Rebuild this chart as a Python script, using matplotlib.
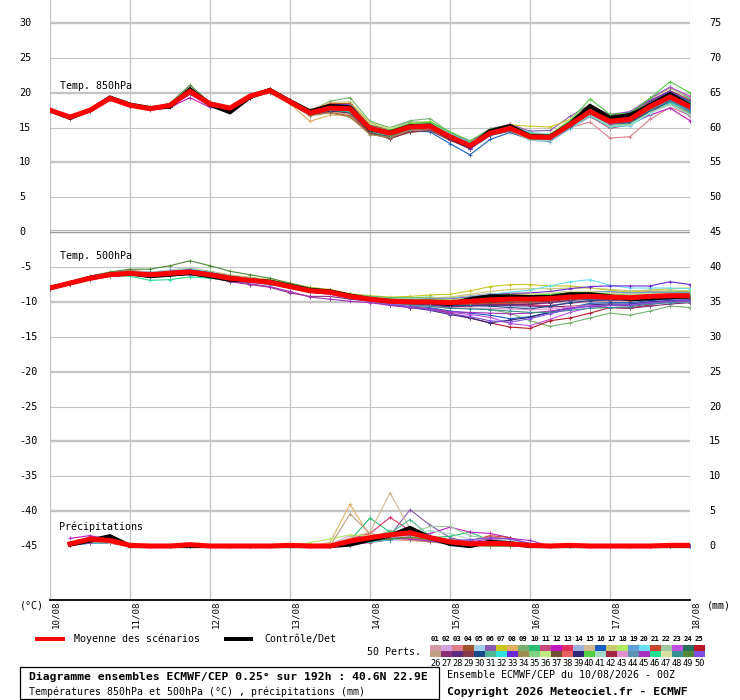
import matplotlib
matplotlib.use('Agg')
import matplotlib.pyplot as plt
from matplotlib.transforms import blended_transform_factory, ScaledTranslation
from matplotlib.patches import Rectangle
import numpy as np

# ---------------- DATA ----------------
hours = [0, 6, 12, 18, 24, 30, 36, 42, 48, 54, 60, 66, 72, 78, 84, 90, 96,
         102, 108, 114, 120, 126, 132, 138, 144, 150, 156, 162, 168, 174, 180, 186, 192]
day_hours = [0, 24, 48, 72, 96, 120, 144, 168, 192]
day_labels = ['10/08', '11/08', '12/08', '13/08', '14/08', '15/08', '16/08', '17/08', '18/08']
left_ticks = [30, 25, 20, 15, 10, 5, 0, -5, -10, -15, -20, -25, -30, -35, -40, -45]
right_ticks = [75, 70, 65, 60, 55, 50, 45, 40, 35, 30, 25, 20, 15, 10, 5, 0]

t850_mean = [17.5, 16.5, 17.5, 19.2, 18.2, 17.7, 18.2, 20.2, 18.4, 17.8, 19.5, 20.3, 18.7, 17.1, 17.8, 17.7, 14.9,
             14.2, 15.1, 15.2, 13.7, 12.4, 14.2, 14.9, 13.7, 13.6, 15.4, 17.3, 15.9, 16.2, 18.0, 19.4, 18.0]
t850_ctrl = [17.5, 16.4, 17.5, 19.3, 18.3, 17.8, 18.0, 20.5, 18.3, 17.2, 19.4, 20.4, 18.8, 17.3, 18.1, 17.9, 14.8,
             14.3, 15.2, 15.3, 13.6, 12.3, 14.5, 15.2, 13.8, 13.7, 15.5, 18.1, 16.4, 16.8, 18.2, 19.8, 18.2]

t500_mean = [-8.0, -7.3, -6.6, -6.1, -5.9, -6.1, -5.9, -5.7, -6.1, -6.6, -6.9, -7.2, -7.8, -8.4, -8.6, -9.2, -9.6,
             -9.9, -10.0, -10.0, -10.1, -9.9, -9.7, -9.6, -9.6, -9.5, -9.3, -9.2, -9.3, -9.4, -9.2, -9.1, -9.1]
t500_ctrl = [-8.0, -7.3, -6.6, -6.1, -5.9, -6.3, -6.1, -5.8, -6.3, -6.8, -6.9, -7.1, -7.7, -8.3, -8.5, -9.1, -9.6,
             -9.9, -10.0, -10.0, -10.3, -9.6, -9.2, -9.2, -9.3, -9.3, -8.9, -8.9, -9.2, -9.6, -9.5, -9.3, -9.2]

# precipitation, mm, steps 6h .. 192h
precip_mean = [0.3, 1.0, 0.8, 0.1, 0.0, 0.0, 0.2, 0.0, 0.0, 0.0, 0.0, 0.1, 0.0, 0.0, 0.7, 1.2,
               1.6, 1.9, 1.2, 0.6, 0.3, 0.4, 0.3, 0.1, 0.0, 0.1, 0.0, 0.0, 0.0, 0.0, 0.1, 0.1]
precip_ctrl = [0.2, 0.8, 1.4, 0.0, 0.0, 0.0, 0.0, 0.0, 0.0, 0.0, 0.0, 0.0, 0.0, 0.0, 0.2, 0.9,
               1.5, 2.6, 1.2, 0.3, 0.0, 0.6, 0.4, 0.0, 0.0, 0.0, 0.0, 0.0, 0.0, 0.0, 0.0, 0.0]

# 850 hPa members: departure from the mean, tenths of degC
t850_dev = [
    [1,1,0,0,1,1,0,2,1,0,1,2,2,3,5,6,4,3,2,3,4,5,3,2,1,0,-2,-4,-6,-5,-3,-2,-4],
    [-1,0,1,1,0,-1,-1,-3,-2,-1,-1,0,1,2,4,5,3,2,3,4,5,6,7,5,4,3,2,0,-1,-2,-3,-5,-8],
    [2,1,1,0,0,0,1,3,2,2,1,0,-1,-2,-4,-5,-6,-4,-3,-2,-1,0,1,2,3,4,-4,-15,-24,-25,-18,-15,-12],
    [0,-1,-1,0,1,2,2,4,3,2,2,1,0,-1,-3,-6,-5,-7,-8,-6,-5,-3,-2,-1,0,1,3,5,6,7,8,9,10],
    [-2,-1,0,1,1,0,-1,-2,-1,0,1,1,2,1,0,-2,-1,0,2,3,2,1,0,-1,-3,-4,-6,-8,-5,-3,-1,2,4],
    [1,2,2,1,0,-1,-2,-4,-3,-2,-1,-1,0,1,2,3,5,6,7,5,3,2,4,6,8,10,12,10,8,9,11,14,12],
    [0,0,1,2,2,1,0,-1,0,1,2,3,3,4,6,8,7,5,3,1,0,-2,0,5,15,15,8,6,4,3,2,1,0],
    [-1,-1,-1,0,0,0,1,2,1,0,-1,-2,-3,-12,-10,-9,-7,-5,-4,-3,-2,-1,-2,-3,-4,-2,0,2,3,1,-1,-3,-2],
    [1,0,0,-1,-1,0,1,3,2,1,0,0,1,3,10,16,10,8,9,11,6,3,2,2,1,0,-1,-2,-3,-4,-6,-9,-10],
    [0,1,1,1,2,2,1,0,-1,-2,-2,-3,-2,-1,0,2,3,4,5,6,7,5,4,3,2,1,3,6,8,10,12,14,12],
    [-1,-2,-1,0,1,1,1,2,0,-1,-1,0,0,-1,-2,-3,-2,-1,0,1,2,3,4,3,2,0,-3,-7,-10,-8,-7,-9,-12],
    [2,2,1,0,-1,-2,-3,-9,-5,-3,-2,-1,-1,-2,-3,-4,-2,0,1,2,1,0,-1,-2,-1,0,1,-2,-5,-7,-12,-16,-20],
    [0,0,0,1,1,1,0,1,1,2,3,3,2,1,-1,-2,-1,0,1,2,3,4,5,6,5,4,3,1,0,2,4,6,8],
    [1,1,0,0,0,-1,-1,-2,-1,0,0,1,1,2,3,4,3,1,-1,-3,-4,-5,-4,-3,-2,-1,0,1,2,3,2,1,-1],
    [-1,0,0,0,-1,-1,0,1,2,2,1,1,0,-2,-5,-8,-6,-4,-2,0,2,3,2,1,0,-1,-2,-3,-4,-2,0,3,5],
    [0,-1,-1,-1,0,1,1,0,-1,-1,0,1,2,2,1,0,-2,-4,-6,-8,-10,-13,-9,-6,-4,-3,-2,-4,-6,-5,-4,-2,0],
    [1,1,1,0,0,0,0,-1,0,1,1,2,3,5,8,10,8,6,4,3,2,1,0,-1,0,1,2,4,6,8,10,12,14],
    [0,0,1,1,1,1,2,3,2,1,0,-1,-1,0,1,2,3,5,6,7,6,5,3,2,1,2,4,7,9,8,6,5,3],
    [-2,-2,-1,-1,0,0,-1,-3,-2,-1,0,0,1,0,-1,0,1,2,1,0,-1,-2,-3,-4,-5,-6,-5,-3,-1,0,1,0,-2],
    [1,0,-1,-1,-1,0,1,2,1,1,2,2,1,0,-2,-3,-4,-3,-2,-1,0,1,2,4,6,5,3,1,-1,-3,-5,-7,-9],
    [0,1,0,0,1,1,0,-1,-1,-1,-2,-2,-1,-3,-6,-10,-8,-6,-5,-4,-3,-2,-1,0,1,2,3,2,1,0,-1,-2,-3],
    [-1,-1,0,0,0,0,0,1,1,0,0,0,0,1,2,3,1,0,-1,0,1,2,3,1,-1,-3,-4,-5,-6,-6,-5,-4,-3],
    [1,1,1,1,0,0,0,0,0,0,1,1,1,2,4,6,5,4,3,4,5,6,5,4,3,4,6,8,10,11,12,14,15],
    [0,0,0,0,-1,-1,-1,-2,-2,-2,-1,0,0,-1,-3,-5,-6,-5,-3,-2,-1,0,-1,-2,-3,-2,-1,0,1,-1,-3,-6,-8],
    [0,1,1,1,1,0,0,1,0,0,0,1,2,4,6,7,5,3,1,0,-1,-2,-2,-1,0,1,2,3,4,5,6,4,2],
    [-1,0,0,0,0,1,1,2,1,0,-1,-1,-1,-2,-3,-4,-3,-2,-1,-1,0,0,1,1,2,2,1,-1,-3,-4,-6,-8,-10],
    [1,0,0,0,0,0,-1,-4,-3,-2,-2,-2,-1,0,1,1,0,-1,-2,-3,-4,-3,-2,-1,0,1,2,0,-2,-4,-7,-10,-13],
    [0,0,0,1,1,1,1,1,1,1,1,1,0,-1,-2,-1,0,1,2,3,2,1,0,-1,-2,-1,0,2,4,5,6,7,8],
    [0,-1,-1,-1,-1,-1,0,0,0,-1,-1,-1,-2,-3,-4,-6,-7,-8,-7,-6,-5,-4,-3,-2,-1,0,1,2,3,2,1,0,-1],
    [1,1,0,-1,-1,0,1,2,1,1,1,0,-1,-1,0,1,2,3,2,1,0,-1,-2,-3,-2,-1,0,-1,-3,-5,-6,-7,-6],
    [-1,-1,-1,0,1,1,1,0,-1,-1,0,0,1,2,3,4,4,3,2,1,0,0,1,2,3,3,2,1,0,1,3,5,7],
    [0,0,1,1,1,0,0,-1,0,0,0,0,0,0,-1,-2,-1,1,3,4,5,4,2,0,-2,-3,-4,-6,-8,-9,-10,-8,-6],
    [1,1,1,1,0,0,-1,-2,-1,0,1,2,2,3,5,6,4,2,0,-2,-3,-4,-3,-2,-1,1,3,6,9,10,9,8,7],
    [0,0,-1,-1,0,0,0,1,1,1,0,-1,-2,-4,-7,-12,-9,-6,-4,-3,-2,-1,0,1,1,0,-1,-2,-1,0,1,2,3],
    [-1,-1,0,0,0,0,0,1,0,-1,-1,-1,0,1,2,3,2,2,3,4,4,3,2,1,0,-1,-2,-4,-6,-7,-8,-10,-11],
    [1,1,0,0,0,1,1,2,1,0,0,0,1,2,3,5,6,7,5,3,2,1,1,2,3,5,8,9,6,4,2,1,0],
    [0,0,0,0,0,-1,-1,-1,0,0,-1,-1,-1,-2,-2,-3,-3,-2,-2,-1,-1,-2,-3,-4,-4,-3,-2,-1,0,1,2,3,4],
    [0,-1,0,1,1,1,0,0,0,0,1,2,2,2,1,0,1,2,3,2,1,0,-1,0,1,2,3,2,0,-2,-3,-4,-5],
    [-1,-1,-1,-1,-1,0,0,-1,-1,0,0,0,-1,-2,-4,-5,-4,-2,0,1,2,2,1,0,-1,-2,-3,-4,-2,0,2,4,6],
    [1,0,0,0,0,0,1,2,2,2,2,1,1,2,3,4,3,4,5,6,7,7,6,5,4,3,6,18,10,9,12,22,20],
    [0,0,0,0,1,1,0,-1,-1,-1,0,1,1,1,2,1,0,-1,-2,-2,-1,0,-1,-3,-5,-4,-3,-5,-7,-8,-9,-11,-12],
    [0,1,1,0,-1,-1,-1,-2,-2,-1,0,0,0,-1,-2,-2,-1,0,0,0,1,0,-1,-1,0,1,0,-1,-1,0,1,0,-1],
    [-1,0,0,0,0,1,1,3,2,1,1,1,1,2,3,3,2,1,1,2,3,3,3,2,2,2,3,4,5,4,3,2,1],
    [1,1,1,0,0,-1,-1,-3,-2,-1,-1,-1,-1,-1,-1,-2,-2,-3,-3,-3,-2,-1,0,0,-1,-2,-3,-2,-1,-2,-4,-5,-7],
    [0,0,0,0,0,0,0,0,1,1,1,1,1,1,1,1,1,0,-1,-2,-2,-3,-2,-1,0,-1,-2,-3,-4,-3,-2,-3,-4],
    [0,-1,-1,0,0,0,0,1,0,0,0,0,-1,-2,-3,-4,-3,-2,-1,-1,0,1,2,3,4,3,2,1,2,3,4,5,6],
    [1,1,0,0,1,1,1,1,0,0,0,0,0,1,1,2,2,2,1,1,1,0,0,0,1,1,1,0,-1,-1,-2,-3,-2],
    [-1,-1,0,0,0,0,-1,-2,-1,-1,-1,-1,0,0,0,0,1,1,1,0,-1,-1,-2,-2,-2,-1,-1,-2,-3,-3,-3,-4,-5],
    [0,0,1,1,0,0,3,9,2,1,1,0,0,-1,-1,-1,0,0,0,-1,-1,0,0,1,1,2,3,2,1,1,2,3,4],
    [0,0,0,0,-1,-1,0,0,0,0,0,1,1,2,2,3,2,1,0,-1,-2,-2,-1,0,1,0,-1,0,1,2,2,1,0],
]

# 500 hPa members: departure from the mean, tenths of degC
t500_dev = [
    [1,1,2,2,3,2,1,2,1,0,-1,-1,0,1,2,2, 3,4,5,6,7,8,9,8,7,6,5,6,7,8,7,6,5],
    [0,0,1,1,2,3,3,4,3,2,2,1,1,0,0,-1, -1,-2,-1,0,1,2,3,4,5,6,7,6,5,4,3,2,1],
    [-1,-1,0,0,-1,-2,-2,-3,-2,-1,0,1,2,3,3,2, 1,0,-1,-2,-3,-5,-7,-8,-6,-4,-2,0,2,3,4,5,6],
    [2,2,2,3,4,4,3,3,2,1,1,0,-1,-2,-2,-1, 0,1,2,3,3,4,5,6,6,5,4,3,2,3,4,5,6],
    [0,1,1,2,3,4,5,6,5,4,3,2,2,1,1,0, -1,-2,-3,-4,-5,-6,-8,-10,-12,-10,-8,-6,-4,-2,0,1,2],
    [-2,-1,-1,-1,0,1,2,3,2,2,1,1,0,0,-1,-1, -2,-3,-4,-5,-6,-4,-2,0,2,4,5,4,3,2,1,0,-1],
    [1,1,1,1,1,2,2,3,3,3,4,4,5,5,4,4, 5,6,8,10,12,15,19,21,21,18,16,12,10,8,9,10,11],
    [0,0,-1,-1,-2,-2,-1,-1,0,1,2,3,4,4,3,3, 2,3,4,5,6,7,8,9,8,7,6,5,4,3,2,2,1],
    [-1,0,0,1,1,0,-1,-2,-3,-3,-2,-2,-1,-1,-2,-2, -3,-4,-5,-6,-8,-10,-14,-20,-31,-40,-37,-31,-23,-25,-21,-15,-17],
    [1,1,0,0,0,-1,-1,-1,0,0,1,1,2,2,3,3, 4,5,6,7,6,5,4,3,2,1,0,-1,-2,-1,0,1,2],
    [0,-1,-1,-2,-2,-3,-3,-4,-3,-2,-2,-1,-1,0,0,1, 1,1,0,-1,-2,-4,-6,-8,-9,-10,-9,-7,-5,-4,-3,-2,-1],
    [1,2,3,3,2,2,1,1,0,0,-1,-1,-2,-2,-3,-3, -2,-1,0,1,2,3,4,5,6,7,8,7,6,5,4,3,2],
    [-1,-1,-2,-2,-1,0,1,2,3,4,4,3,2,1,0,0, 0,-1,-2,-3,-4,-5,-6,-7,-8,-6,-4,-3,-2,-1,0,1,2],
    [0,0,0,1,1,2,2,3,3,2,2,1,1,1,0,0, 1,2,3,4,5,6,5,4,3,2,1,0,1,2,3,4,5],
    [2,1,1,0,0,-1,-1,-2,-1,0,1,2,3,3,2,2, 1,0,-1,0,1,2,3,4,5,6,5,4,3,2,1,0,-1],
    [0,0,0,-1,-1,-1,-2,-2,-2,-1,-1,0,0,0,-1,-1, -2,-4,-6,-8,-12,-17,-22,-28,-25,-20,-15,-10,-8,-7,-6,-5,-4],
    [1,1,2,2,2,3,4,5,5,5,4,4,3,3,3,2, 3,4,5,6,8,10,12,14,15,14,13,12,11,10,9,8,7],
    [-1,0,0,0,1,1,1,1,2,2,2,3,3,2,2,1, 0,1,2,3,4,5,6,6,5,4,3,2,3,4,5,6,7],
    [0,0,1,1,0,0,-1,-1,-2,-2,-3,-3,-2,-2,-1,-1, 0,1,2,2,3,3,4,4,5,5,6,7,8,7,6,5,4],
    [1,0,0,1,2,3,3,4,4,3,3,2,2,1,1,1, 2,3,4,5,6,7,8,10,13,18,22,24,17,14,12,11,10],
    [-1,-1,0,0,0,-1,-1,-2,-2,-2,-1,-1,0,0,1,1, 1,0,-1,-2,-3,-4,-5,-6,-5,-4,-3,-2,-1,0,1,2,3],
    [0,1,1,1,1,2,2,2,1,1,0,0,0,1,1,1, 2,2,3,3,4,4,5,5,6,6,5,5,4,4,3,3,2],
    [0,0,0,0,-1,-1,-2,-3,-3,-2,-2,-1,-1,-1,-2,-2, -3,-5,-7,-10,-14,-19,-25,-35,-38,-30,-22,-16,-12,-10,-8,-7,-6],
    [1,1,1,2,2,2,2,3,2,2,2,1,1,0,0,0, -1,-1,0,1,1,2,2,3,3,2,2,1,1,0,0,-1,-1],
    [0,0,-1,-1,-1,0,0,1,1,0,0,-1,-1,-2,-2,-1, -2,-4,-7,-10,-15,-24,-33,-40,-42,-32,-30,-24,-15,-15,-12,-8,-8],
    [-1,-1,-1,0,0,1,1,1,0,0,-1,-1,0,0,1,1, 2,3,3,4,4,5,5,6,6,7,7,6,5,4,3,2,1],
    [0,0,1,0,-1,-2,-3,-4,-4,-5,-6,-7,-9,-8,-6,-4, -3,-3,-4,-5,-6,-7,-8,-9,-10,-12,-13,-14,-15,-15,-14,-12,-10],
    [1,1,2,2,1,1,0,0,1,1,2,2,1,1,0,0, -1,-2,-3,-4,-5,-6,-7,-8,-7,-6,-5,-4,-3,-2,-1,0,1],
    [0,0,0,0,1,1,2,2,3,3,2,2,1,1,0,0, 0,0,1,1,2,2,3,3,4,4,3,3,2,2,1,1,0],
    [-1,-1,-1,-1,-1,-2,-2,-2,-1,-1,0,0,1,1,2,2, 1,0,-1,-2,-4,-6,-9,-12,-14,-11,-8,-6,-4,-3,-2,-2,-1],
    [0,1,1,1,0,0,0,0,0,-1,-1,-1,-1,0,0,0, 0,1,1,2,2,3,3,4,4,5,5,4,4,3,3,2,2],
    [1,1,0,0,-1,-2,-3,-3,-2,-1,-1,0,0,1,1,1, 1,1,2,2,3,3,4,4,3,3,2,2,1,1,0,0,-1],
    [0,0,1,1,2,2,3,3,3,2,2,2,1,1,1,0, 1,2,3,4,5,6,7,8,9,10,12,14,16,17,15,20,16],
    [-1,0,0,1,1,0,0,-1,-1,-1,0,0,1,1,1,2, 2,3,3,4,4,5,5,6,5,4,3,2,1,0,-1,-2,-3],
    [0,0,0,0,0,1,1,1,1,1,1,1,1,1,1,1, 0,0,-1,-1,-2,-2,-3,-3,-4,-4,-3,-3,-2,-2,-1,-1,0],
    [1,1,1,0,0,0,0,0,-1,-1,-1,-2,-2,-2,-1,-1, 0,1,2,3,4,5,6,7,7,7,6,5,4,3,3,3,3],
    [-1,-1,0,0,1,1,2,2,2,1,1,1,0,0,0,0, -1,-1,-2,-2,-3,-3,-4,-4,-3,-3,-2,-2,-1,-1,0,0,1],
    [0,0,-1,-1,-1,-1,0,0,1,1,2,2,2,2,2,1, 1,1,1,0,0,0,-1,-1,-1,0,0,1,1,2,2,3,3],
    [0,-1,-1,-1,-2,-2,-2,-1,-1,0,0,0,-1,-1,-1,-2, -3,-5,-8,-12,-17,-24,-33,-30,-26,-20,-15,-12,-10,-9,-8,-7,-6],
    [1,1,1,1,1,1,1,2,2,2,2,2,2,1,1,1, 1,2,2,3,3,4,4,5,5,6,6,5,5,4,4,3,3],
    [0,0,0,-1,-1,-1,-1,-1,0,0,0,0,0,0,0,0, 0,0,0,1,1,1,2,2,2,3,3,3,2,2,2,1,1],
    [-1,-1,-1,-1,0,0,0,0,0,0,0,-1,-1,-1,-1,-1, -1,-1,-2,-2,-2,-3,-3,-4,-4,-4,-3,-3,-3,-2,-2,-2,-1],
    [0,1,1,1,1,0,0,-1,-1,-1,-1,-1,-2,-2,-2,-2, -3,-4,-5,-6,-8,-10,-12,-14,-15,-15,-14,-13,-12,-12,-11,-10,-9],
    [1,1,0,0,0,0,0,1,1,1,1,2,2,2,2,2, 2,2,2,2,1,1,1,0,0,0,-1,-1,-1,0,0,0,1],
    [0,0,0,-1,-1,-2,-3,-3,-4,-4,-5,-6,-7,-9,-10,-7, -5,-6,-8,-10,-13,-16,-19,-21,-20,-18,-16,-14,-12,-11,-10,-9,-8],
    [0,0,-1,-2,-4,-8,-9,-7,-5,-3,-2,-1,0,0,0,0, 0,0,-1,-1,-1,-2,-2,-3,-3,-2,-2,-1,-1,0,0,1,1],
    [1,1,1,1,1,1,1,1,1,1,1,1,1,1,1,0, 0,1,1,2,3,4,5,6,7,8,8,7,6,5,4,3,2],
    [0,0,0,0,0,0,-1,-1,-1,-1,-1,-1,-1,-1,-1,-1, -2,-3,-4,-6,-8,-11,-14,-17,-19,-20,-19,-17,-15,-13,-11,-10,-9],
    [1,2,3,4,6,8,11,16,13,10,8,6,5,4,3,2, 2,2,1,1,0,0,-1,-1,0,0,1,1,2,2,1,1,0],
    [0,0,0,0,-1,-1,-1,-1,-1,-2,-2,-2,-2,-1,-1,-1, -2,-4,-7,-11,-16,-22,-30,-33,-28,-22,-17,-14,-12,-10,-9,-8,-7],
]

# precipitation members, tenths of mm, steps 6h .. 192h
precip_members = [
    [3,8,6,1,0,0,0,0,0,0,0,0,0,0,5,10,12,15,8,4,2,1,0,0,0,0,0,0,0,0,0,0],
    [2,6,9,2,0,0,1,0,0,0,0,0,0,2,15,12,9,8,6,3,1,0,0,0,0,0,0,0,0,0,0,0],
    [4,10,7,0,0,0,0,0,0,0,0,0,0,0,3,8,14,20,12,6,3,2,1,0,0,0,0,0,0,0,0,0],
    [1,5,4,0,0,0,0,0,0,0,0,1,0,0,2,6,10,12,9,5,2,1,0,0,0,1,0,0,0,0,0,0],
    [3,7,8,1,0,0,0,0,0,0,0,0,0,1,4,9,13,16,10,7,4,2,1,0,0,0,0,0,0,0,0,0],
    [2,9,10,2,0,0,2,0,0,0,0,0,0,0,3,7,15,52,30,12,5,2,0,0,0,0,0,0,0,0,0,0],
    [5,12,8,0,0,0,0,0,0,0,0,0,0,0,6,12,18,14,8,3,1,0,0,0,0,0,0,0,0,0,0,0],
    [3,7,6,0,0,0,0,0,0,0,0,0,0,5,60,14,10,8,6,4,2,0,0,0,0,0,0,0,0,0,0,0],
    [2,6,5,1,0,0,0,0,0,0,0,0,0,0,4,11,22,18,10,6,3,1,0,0,0,0,0,0,0,0,0,0],
    [4,9,7,0,0,0,0,0,0,0,0,0,0,0,8,40,20,15,12,14,20,8,3,0,0,0,0,0,0,0,0,0],
    [1,4,6,1,0,0,0,0,0,0,0,0,0,0,2,5,9,12,10,8,5,3,2,0,0,0,0,0,0,0,0,0],
    [11,15,9,2,0,0,0,0,0,0,0,0,0,0,3,6,9,14,18,27,20,18,12,2,0,0,0,0,0,0,0,0],
    [3,8,7,0,0,0,0,0,0,0,0,0,0,1,10,18,41,22,9,4,3,2,1,0,0,0,0,0,0,0,0,0],
    [2,5,4,0,0,0,0,0,0,0,0,0,0,0,3,7,11,13,9,5,2,1,0,0,0,0,0,0,0,0,0,0],
    [4,8,5,0,0,0,0,0,0,0,0,0,0,0,12,20,76,25,10,4,1,0,0,0,0,0,0,0,0,0,0,0],
    [3,6,6,1,0,0,0,0,0,0,0,0,0,0,4,8,12,15,10,7,5,4,3,1,0,0,0,0,0,0,0,0],
    [2,7,8,0,0,0,0,0,0,0,0,0,0,2,6,10,14,12,8,5,2,0,0,0,0,0,0,0,0,0,0,0],
    [5,10,6,1,0,0,0,0,0,0,0,0,5,10,16,14,12,10,7,4,2,1,0,0,0,0,0,0,0,0,0,0],
    [1,4,5,0,0,0,0,0,0,0,0,0,0,0,3,6,10,14,12,8,4,2,1,0,0,0,0,0,0,0,0,0],
    [3,8,7,1,0,0,0,0,0,0,0,0,0,0,5,9,13,17,11,6,3,1,0,0,0,0,0,0,0,0,0,0],
    [2,6,5,0,0,0,0,0,0,0,0,0,0,0,4,8,12,10,8,6,7,15,12,2,0,0,0,0,0,0,0,0],
    [4,9,8,1,0,0,0,0,0,0,0,0,0,0,5,10,14,18,28,28,15,10,6,1,0,0,0,0,0,0,0,0],
    [2,5,6,0,0,0,0,0,0,0,0,0,0,0,3,7,11,15,12,8,6,5,4,2,0,0,0,0,0,0,0,0],
    [3,7,6,0,0,0,0,0,0,0,0,0,0,0,6,11,16,14,9,5,2,0,0,0,0,0,0,0,0,0,0,0],
    [1,5,7,1,0,0,0,0,0,0,0,0,0,0,4,9,13,16,12,7,4,2,1,0,0,0,0,0,0,0,0,0],
    [3,6,5,0,0,0,0,0,0,0,0,0,0,0,46,18,12,9,6,3,1,0,0,0,0,0,0,0,0,0,0,0],
    [4,10,9,1,0,0,0,0,0,0,0,0,0,0,5,10,15,20,14,8,5,3,2,1,0,0,0,0,0,0,0,0],
    [2,6,6,0,0,0,0,0,0,0,0,0,0,0,3,8,12,16,11,7,4,6,5,2,0,0,0,0,0,0,0,0],
    [3,7,5,0,0,0,0,0,0,0,0,0,0,0,4,9,14,12,8,4,2,1,0,0,0,0,0,0,0,0,0,0],
    [2,6,7,1,0,0,0,0,0,0,0,0,0,0,3,8,13,17,12,7,4,2,1,0,0,0,0,0,0,0,0,0],
    [3,8,6,0,0,0,0,0,0,0,0,0,0,0,5,12,18,38,14,7,3,1,0,0,0,0,0,0,0,0,0,0],
    [1,4,5,0,0,0,0,0,0,0,0,0,0,0,3,6,9,12,8,5,3,1,0,0,0,0,0,0,0,0,0,0],
    [4,9,8,1,0,0,0,0,0,0,0,0,0,0,6,11,15,19,13,8,4,2,1,0,0,0,0,0,0,0,0,0],
    [2,6,5,0,0,0,0,0,0,0,0,0,0,0,4,8,13,11,7,3,1,0,0,0,0,0,0,0,0,0,0,0],
    [3,7,7,1,0,0,0,0,0,0,0,0,0,0,5,10,14,17,11,6,3,1,0,0,0,0,0,0,0,0,0,0],
    [2,5,6,0,0,0,0,0,0,0,0,0,0,3,8,12,15,13,9,5,3,2,1,0,0,0,0,0,0,0,0,0],
    [3,8,6,0,0,0,0,0,0,0,0,0,0,0,4,9,13,16,10,6,3,1,0,0,0,0,0,0,0,0,0,0],
    [2,6,7,1,0,0,0,0,0,0,0,0,0,0,5,9,14,12,8,6,8,13,10,3,0,0,0,0,0,0,0,0],
    [1,5,5,0,0,0,0,0,0,0,0,0,0,0,3,7,11,15,11,7,4,2,1,0,0,0,0,0,0,0,0,0],
    [3,7,6,0,0,0,0,0,0,0,0,0,0,0,6,12,17,15,10,5,2,1,0,0,0,0,0,0,0,0,0,0],
    [2,6,5,1,0,0,0,0,0,0,0,0,0,2,6,10,14,18,22,18,10,8,9,3,0,0,0,0,0,0,0,0],
    [4,9,7,0,0,0,0,0,0,0,0,0,0,0,5,10,15,19,13,7,4,2,1,0,0,0,0,0,0,0,0,0],
    [2,5,6,0,0,0,0,0,0,0,0,0,0,0,3,8,12,14,10,6,3,1,0,0,0,0,0,0,0,0,0,0],
    [3,7,7,1,0,0,0,0,0,0,0,0,0,0,4,9,13,17,12,8,5,3,2,1,0,0,0,0,0,0,0,0],
    [1,5,6,0,0,0,0,0,0,0,0,0,0,0,4,8,12,10,7,4,6,10,11,8,0,0,0,0,0,0,0,0],
    [3,8,6,0,0,0,0,0,0,0,0,0,0,0,5,11,16,20,14,8,4,2,1,0,0,0,0,0,0,0,0,0],
    [2,6,5,0,0,0,0,0,0,0,0,0,0,0,4,9,13,15,10,6,3,1,0,0,0,0,0,0,0,0,0,0],
    [4,9,8,1,0,0,0,0,0,0,0,0,0,0,5,10,14,18,12,9,6,4,2,0,0,0,0,0,0,0,0,0],
    [2,6,6,0,0,0,0,0,0,0,0,0,0,0,3,7,10,13,9,5,2,1,0,0,0,0,0,0,0,0,0,0],
    [3,7,6,1,0,0,0,0,0,0,0,0,0,0,5,9,14,16,11,8,9,12,10,4,0,0,0,0,0,0,0,0],
]

member_colors = [
    '#D49AA5', '#D4A0E0', '#E07D8A', '#A0522D', '#A0D0F0', '#8A5AB0', '#C8C820', '#E0B060', '#78B070', '#28C070',
    '#C84A7A', '#C018C0', '#E03060', '#A0B0E0', '#D0B890', '#1860C0', '#C8C870', '#B0E860', '#60A0D8', '#68E0F0',
    '#C84830', '#A0C8A0', '#C050E0', '#287060', '#B81828',
    '#C0A080', '#8B2E7A', '#5A2D80', '#8B3A4A', '#1A4A8A', '#50B890', '#30E0E0', '#6A28D8', '#A08C50', '#80D080',
    '#C0E880', '#705030', '#E86060', '#302878', '#50D040', '#A8D8C8', '#A02840', '#E090D0', '#6090B0', '#A830C0',
    '#20E090', '#D8E0A0', '#389090', '#508838', '#8050E0',
]

# ---------------- LAYOUT ----------------
W, H = 740, 700
MONO = 'DejaVu Sans Mono'
PRECIP_ZERO = -45.0   # precipitation baseline on the temperature scale
GRID = '#c4c4c4'

fig = plt.figure(figsize=(W / 100, H / 100), dpi=100)
fig.patch.set_facecolor('white')


def fx(px):
    return px / W


def fy(py):
    return 1 - py / H


ax = fig.add_axes([fx(50), fy(600), fx(690) - fx(50), fy(0) - fy(600)])
ax.set_xlim(0, 192)
ax.set_ylim(-52.74, 33.30)
ax.axis('off')

# grid
for d in day_hours:
    ax.axvline(d, color=GRID, lw=0.9, zorder=1)
for v in left_ticks:
    if v == 0 or v == -45:
        continue
    lw = 1.7 if v % 10 == 0 else 0.8
    ax.axhline(v, color=GRID, lw=lw, zorder=1)
ax.axhline(0.0, color='#9a9a9a', lw=1.0, zorder=1.2)
ax.axhline(0.3, color='#b8b8b8', lw=0.8, zorder=1.2)
ax.axhline(-52.74, color='black', lw=1.3, zorder=5, clip_on=False)

hrs = np.array(hours)
# members
for k in range(50):
    c = member_colors[k]
    y850 = np.array(t850_mean) + np.array(t850_dev[k]) / 10.0
    y500 = np.array(t500_mean) + np.array(t500_dev[k]) / 10.0
    ypr = PRECIP_ZERO + np.array(precip_members[k]) / 10.0
    kw = dict(color=c, lw=0.8, marker='+', ms=3.2, mew=0.6, zorder=2)
    ax.plot(hrs, y850, **kw)
    ax.plot(hrs, y500, **kw)
    ax.plot(hrs[1:], ypr, **kw)

# control
ck = dict(color='black', lw=3.0, zorder=3, solid_joinstyle='miter')
ax.plot(hrs, t850_ctrl, **ck)
ax.plot(hrs, t500_ctrl, **ck)
ax.plot(hrs[1:], PRECIP_ZERO + np.array(precip_ctrl), **ck)
# mean
mk = dict(color='#ff0000', lw=3.6, zorder=4, solid_joinstyle='miter')
ax.plot(hrs, t850_mean, **mk)
ax.plot(hrs, t500_mean, **mk)
ax.plot(hrs[1:], PRECIP_ZERO + np.array(precip_mean), **mk)

# axis labels
tr_left = blended_transform_factory(fig.transFigure, ax.transData)
for v in left_ticks:
    fig.text(fx(19), v, str(v), transform=tr_left, ha='left', va='center',
             fontsize=7.3, family=MONO)
for r in right_ticks:
    fig.text(fx(709), r - 45, str(r), transform=tr_left, ha='left', va='center',
             fontsize=7.3, family=MONO)

tr_dates = blended_transform_factory(ax.transData, fig.transFigure) + \
    ScaledTranslation(1.5 / 100, 0, fig.dpi_scale_trans)
for d, lab in zip(day_hours, day_labels):
    fig.text(d, fy(601), lab, transform=tr_dates, rotation=90, ha='left', va='top',
             fontsize=6.6, family=MONO)

fig.text(fx(20), fy(606), '(°C)', ha='left', va='center', fontsize=7.2, family=MONO)
fig.text(fx(707), fy(606), '(mm)', ha='left', va='center', fontsize=7.2, family=MONO)

fig.text(fx(60), fy(86), 'Temp. 850hPa', ha='left', va='center', fontsize=7.2, family=MONO)
fig.text(fx(60), fy(256), 'Temp. 500hPa', ha='left', va='center', fontsize=7.2, family=MONO)
fig.text(fx(59), fy(527), 'Précipitations', ha='left', va='center', fontsize=7.2, family=MONO)

# legend
fig.add_artist(Rectangle((fx(35), fy(641)), fx(30), 4 / H, transform=fig.transFigure,
                         facecolor='#ff0000', edgecolor='none'))
fig.text(fx(74), fy(639), 'Moyenne des scénarios', ha='left', va='center', fontsize=7.2, family=MONO)
fig.add_artist(Rectangle((fx(224), fy(641)), fx(29), 4 / H, transform=fig.transFigure,
                         facecolor='black', edgecolor='none'))
fig.text(fx(264), fy(639), 'Contrôle/Det', ha='left', va='center', fontsize=7.2, family=MONO)

fig.text(fx(367), fy(652), '50 Perts.', ha='left', va='center', fontsize=7.2, family=MONO)
for j in range(25):
    x0 = 430 + 11 * j
    fig.add_artist(Rectangle((fx(x0), fy(651)), fx(10.6), 5.7 / H, transform=fig.transFigure,
                             facecolor=member_colors[j], edgecolor='none'))
    fig.add_artist(Rectangle((fx(x0), fy(657)), fx(10.6), 6 / H, transform=fig.transFigure,
                             facecolor=member_colors[25 + j], edgecolor='none'))
    fig.text(fx(x0 + 5.3), fy(639), '%02d' % (j + 1), ha='center', va='center',
             fontsize=5.2, family=MONO, weight='bold')
    fig.text(fx(x0 + 5.3), fy(663.5), '%02d' % (j + 26), ha='center', va='center',
             fontsize=6.2, family=MONO)

# title box
fig.add_artist(Rectangle((fx(20), fy(699)), fx(419), 32 / H, transform=fig.transFigure,
                         facecolor='none', edgecolor='black', lw=0.9))
fig.text(fx(29), fy(677), 'Diagramme ensembles ECMWF/CEP 0.25° sur 192h : 40.6N 22.9E',
         ha='left', va='center', fontsize=8.2, family=MONO, weight='bold')
fig.text(fx(29), fy(692), 'Températures 850hPa et 500hPa (°C) , précipitations (mm)',
         ha='left', va='center', fontsize=7.1, family=MONO)
fig.text(fx(447), fy(675), 'Ensemble ECMWF/CEP du 10/08/2026 - 00Z',
         ha='left', va='center', fontsize=7.2, family=MONO)
fig.text(fx(447), fy(692), 'Copyright 2026 Meteociel.fr - ECMWF',
         ha='left', va='center', fontsize=8.2, family=MONO, weight='bold')

fig.savefig('out.png', dpi=100)
